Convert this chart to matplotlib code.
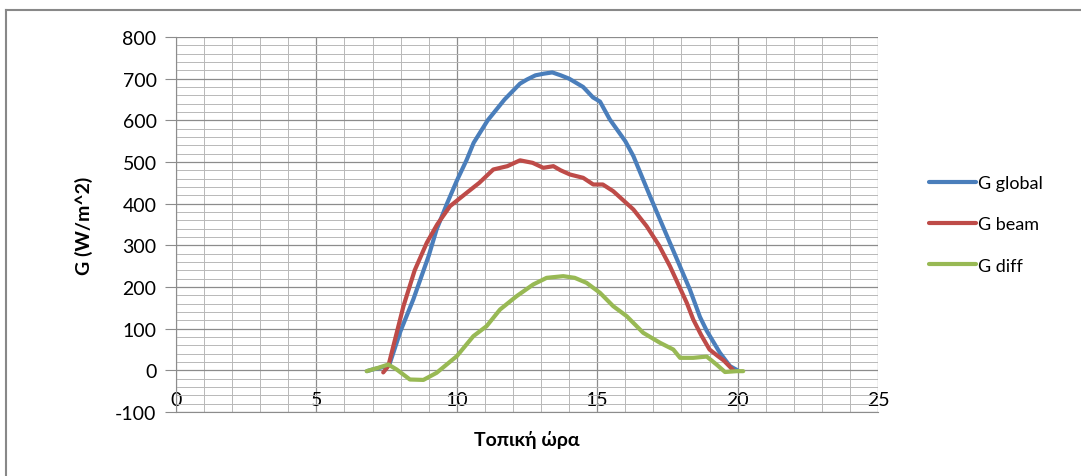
import numpy as np
import matplotlib.pyplot as plt
from matplotlib.lines import Line2D

plt.rcParams['font.family'] = ['Lato', 'DejaVu Sans']
plt.rcParams['axes.unicode_minus'] = False

# hours (local time) and irradiance readings, W/m^2
t_global = [6.8, 7.0, 7.5, 7.6, 8.0, 8.45, 9.0, 9.28, 9.65, 10.0, 10.35, 10.6, 11.1, 11.7,
            12.25, 12.5, 12.8, 13.1, 13.4, 13.7, 14.0, 14.5, 14.85, 15.1, 15.45, 16.0,
            16.29, 16.88, 17.59, 18.3, 18.66, 18.9, 19.37, 19.73, 20.0]
g_global = [-2, 2, 10, 14, 95, 170, 275, 338, 400, 455, 505, 546, 600, 650,
            688, 698, 708, 712, 715, 708, 700, 680, 655, 645, 602, 550,
            514, 418, 306, 194, 128, 95, 42, 10, 0]

t_beam = [7.38, 7.56, 8.1, 8.5, 8.93, 9.3, 9.76, 10.35, 10.8, 11.3, 11.8, 12.25, 12.7,
          13.08, 13.44, 13.7, 14.03, 14.5, 14.86, 15.2, 15.57, 16.29, 16.76, 17.2, 17.59,
          18.19, 18.42, 18.7, 19.0, 19.3, 19.5, 19.85]
g_beam = [-5, 10, 154, 240, 306, 350, 394, 426, 450, 482, 490, 504, 498,
          486, 490, 480, 470, 462, 446, 446, 430, 386, 346, 300, 250,
          162, 122, 85, 50, 34, 24, 0]

t_diff = [6.79, 7.2, 7.56, 7.86, 8.33, 8.81, 9.28, 10.0, 10.59, 11.06, 11.54, 12.13,
          12.72, 13.2, 13.79, 14.2, 14.62, 15.1, 15.57, 16.05, 16.64, 17.24, 17.71,
          17.95, 18.42, 18.9, 19.25, 19.55, 19.97, 20.2]
g_diff = [-2, 6, 14, 2, -22, -23, -6, 34, 82, 106, 146, 178,
          206, 222, 226, 222, 210, 186, 154, 130, 90, 66, 50,
          30, 30, 33, 14, -4, -2, -2]

fig = plt.figure(figsize=(10.81, 4.77), dpi=100)
ax = fig.add_axes([176 / 1081, 1 - 413 / 477, 702 / 1081, 375 / 477])

ax.plot(t_global, g_global, color='#4A7EBB', lw=3, label='G global', solid_capstyle='round')
ax.plot(t_beam, g_beam, color='#BE4B48', lw=3, label='G beam', solid_capstyle='round')
ax.plot(t_diff, g_diff, color='#98B954', lw=3, label='G diff', solid_capstyle='round')

ax.set_xlim(0, 25)
ax.set_ylim(-100, 800)
ax.set_xticks(np.arange(0, 26, 5))
ax.set_xticks(np.arange(0, 26, 1), minor=True)
ax.set_yticks(np.arange(-100, 801, 100))
ax.set_yticks(np.arange(-100, 801, 20), minor=True)
ax.grid(which='major', color='#8c8c8c', lw=0.9)
ax.grid(which='minor', color='#b8b8b8', lw=0.7)
ax.set_axisbelow(True)

for s in ['top', 'right']:
    ax.spines[s].set_visible(False)
ax.spines['left'].set_color('#8c8c8c')
ax.spines['bottom'].set_color('#8c8c8c')

ax.tick_params(axis='y', which='major', length=8, color='#8c8c8c', labelsize=14, pad=6)
ax.tick_params(axis='y', which='minor', length=0)
ax.tick_params(axis='x', which='both', length=0, labelsize=14, pad=-15)

ax.set_xlabel('Τοπική ώρα', fontsize=14, fontweight='bold', labelpad=13)
ax.set_ylabel('G (W/m^2)', fontsize=14, fontweight='bold', labelpad=16)

ax.legend(loc='center left', bbox_to_anchor=(1.05, 0.5), frameon=False, fontsize=13,
          handlelength=2.6, handletextpad=0.1, labelspacing=1.4)

fig.add_artist(Line2D([6 / 1081, 6 / 1081], [1 - 11 / 477, 0], color='#888888', lw=1.5))
fig.add_artist(Line2D([6 / 1081, 1], [1 - 11 / 477, 1 - 11 / 477], color='#888888', lw=1.5))

fig.savefig('out.png', dpi=100)
